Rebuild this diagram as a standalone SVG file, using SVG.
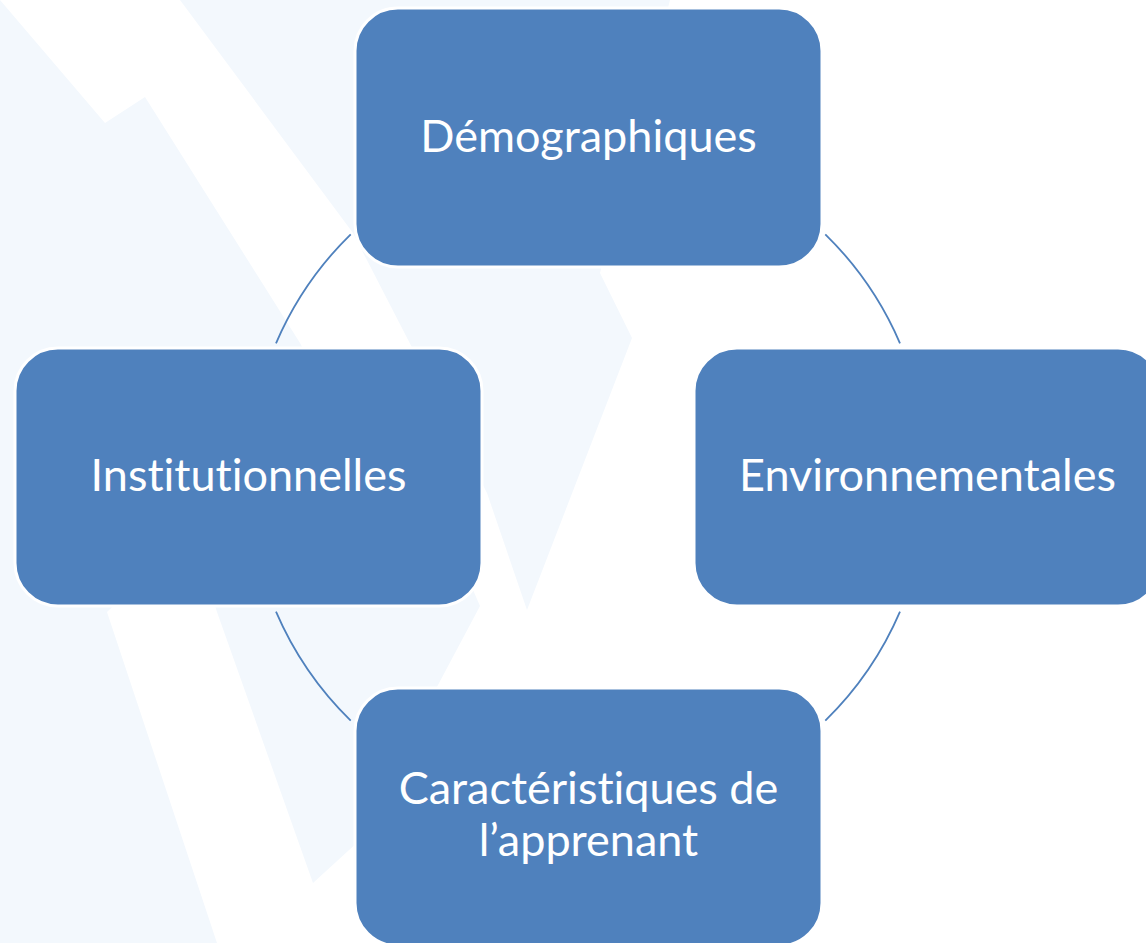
<svg xmlns="http://www.w3.org/2000/svg" width="1146" height="943" viewBox="0 0 1146 943">
  <style>
    .bg { fill: #F3F8FD; stroke: none; }
    .box { fill: #4F81BD; stroke: #FFFFFF; stroke-width: 3; }
    .lbl { fill: #FFFFFF; font-family: Lato, "Open Sans", "Liberation Sans", sans-serif; font-size: 45px; text-anchor: middle; font-variant-ligatures: none; font-feature-settings: "liga" 0, "clig" 0; }
    .arc { fill: none; stroke: #4F81BD; stroke-width: 1.8; }
  </style>
  <rect x="0" y="0" width="1146" height="943" fill="#FFFFFF"/>
  <g id="background">
    <polygon class="bg" points="0,0 105,123 145,97 300,343 330,400 107,612 217,943 0,943"/>
    <polygon class="bg" points="180,0 670,0 600,273 632,338 527,610 487,493 353,233"/>
    <polygon class="bg" points="217,612 313,883 360,840 430,700 480,606 460,560 200,560"/>
  </g>
  <g id="connectors">
    <path class="arc" d="M 350.7 234.3 A 340 340 0 0 0 276 343.3"/>
    <path class="arc" d="M 825.3 234.3 A 340 340 0 0 1 900 343.3"/>
    <path class="arc" d="M 276 611.7 A 340 340 0 0 0 350.7 720.7"/>
    <path class="arc" d="M 900 611.7 A 340 340 0 0 1 825.3 720.7"/>
  </g>
  <g id="node-demographiques">
    <rect class="box" x="355" y="8" width="467" height="259" rx="43" ry="43"/>
    <text class="lbl" x="588.5" y="152">Démographiques</text>
  </g>
  <g id="node-institutionnelles">
    <rect class="box" x="15" y="348" width="467" height="258" rx="43" ry="43"/>
    <text class="lbl" x="248.5" y="491">Institutionnelles</text>
  </g>
  <g id="node-environnementales">
    <rect class="box" x="694" y="348" width="467" height="258" rx="43" ry="43"/>
    <text class="lbl" x="927.5" y="491">Environnementales</text>
  </g>
  <g id="node-apprenant">
    <rect class="box" x="355" y="688" width="467" height="258" rx="43" ry="43"/>
    <text class="lbl" x="588.5" y="804">Caractéristiques de</text>
    <text class="lbl" x="588.5" y="856">l’apprenant</text>
  </g>
</svg>
